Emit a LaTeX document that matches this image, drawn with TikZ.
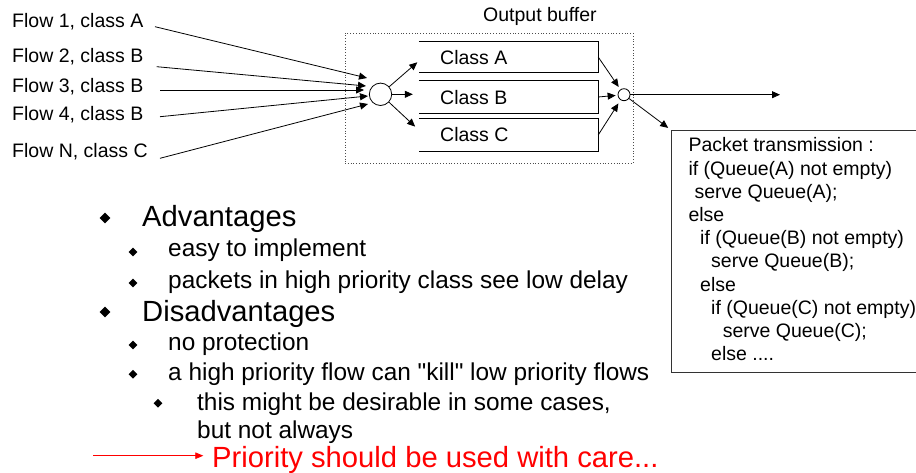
\documentclass[tikz,border=0pt]{standalone}
\usepackage{fontspec}
\setmainfont{Liberation Sans}
\newfontfamily\plainfont{Liberation Sans}
\usetikzlibrary{arrows.meta,shapes.geometric}

\begin{document}
\begin{tikzpicture}[x=1pt,y=-1pt,
		arr/.style={-{Triangle[length=8pt,width=7pt]},line width=0.8pt},
		txt/.style={anchor=base west,inner sep=0pt,font=\fontsize{19.5}{23}\selectfont},
		lvlone/.style={anchor=base west,inner sep=0pt,font=\fontsize{29.2}{34}\selectfont},
		lvltwo/.style={anchor=base west,inner sep=0pt,font=\fontsize{24.4}{29}\selectfont},
		bulone/.style={diamond,fill=black,inner sep=0pt,minimum size=11pt},
		bultwo/.style={diamond,fill=black,inner sep=0pt,minimum size=9pt},
		queue/.style={minimum width=179pt,inner sep=0pt}]
		\useasboundingbox (0,0) rectangle (916,473);

		% flows
		\node[txt] (f1) at (12,28) {Flow 1, class A};
		\node[txt] (f2) at (12,63) {Flow 2, class B};
		\node[txt] (f3) at (12,93) {Flow 3, class B};
		\node[txt] (f4) at (12,121) {Flow 4, class B};
		\node[txt] (f5) at (12,158) {Flow N, class C};
		\coordinate (s1) at (155,26.7);
		\coordinate (s2) at (156.7,66.7);
		\coordinate (s3) at (160,90);
		\coordinate (s4) at (160,116.7);
		\coordinate (s5) at (160,158.3);
		\coordinate (t1) at (367,78);
		\coordinate (t2) at (366,86);
		\coordinate (t3) at (364,90);
		\coordinate (t4) at (368,96);
		\coordinate (t5) at (368,104);

		% output buffer
		\node[draw=black!70,dotted,line width=0.8pt,minimum width=288pt,minimum height=130pt,inner sep=0pt] (buf) at (489,98) {};
		\node[txt] (buflbl) at (483,22) {Output buffer};
		\node[circle,draw,line width=0.8pt,minimum size=22.4pt,inner sep=0pt] (mux) at (380.5,94.3) {};
		\node[queue,minimum height=30pt] (qa) at (508.5,57) {};
		\node[queue,minimum height=32pt] (qb) at (508.5,97) {};
		\node[queue,minimum height=32pt] (qc) at (508.5,135) {};
		\draw[line width=1pt] (qa.north west) -- (qa.north east) -- (qa.south east) -- (qa.south west);
		\draw[line width=1pt] (qb.north west) -- (qb.north east) -- (qb.south east) -- (qb.south west);
		\draw[line width=1pt] (qc.north west) -- (qc.north east) -- (qc.south east) -- (qc.south west);
		\node[txt] (la) at (440,65) {Class A};
		\node[txt] (lb) at (440,105) {Class B};
		\node[txt] (lc) at (440,142) {Class C};
		\node[circle,draw,line width=0.8pt,minimum size=12pt,inner sep=0pt] (sch) at (624,94.7) {};
		\coordinate (out) at (780,94.7);

		\draw[arr] (s1) -- (t1);
		\draw[arr] (s2) -- (t2);
		\draw[arr] (s3) -- (t3);
		\draw[arr] (s4) -- (t4);
		\draw[arr] (s5) -- (t5);

		\draw[arr,shorten >=2pt] (mux) -- ([yshift=-4pt]qa.west);
		\draw[arr,shorten >=6pt] (mux) -- (mux -| qb.west);
		\draw[arr,shorten >=5pt] (mux) -- ([yshift=5pt]qc.west);

		\draw[arr,shorten >=3pt] (qa.east) -- (sch);
		\draw[arr,shorten >=2pt] (qb.east) -- (sch);
		\draw[arr,shorten >=4pt] (qc.east) -- (sch);

		\draw[arr] (sch) -- (out);

		% packet transmission
		\draw[black!80,line width=0.8pt] (918,130) -- (671,130) -- (671,372) -- (918,372);
		\coordinate (pkt) at (671,130);
		\draw[arr,shorten >=3.5pt] (sch) -- (pkt);
		\node[txt] (p1) at (688.3,152) {Packet transmission :};
		\node[txt] (p2) at (688.3,175.2) {if (Queue(A) not empty)};
		\node[txt] (p3) at (694.3,198.4) {serve Queue(A);};
		\node[txt] (p4) at (688.3,221.6) {else};
		\node[txt] (p5) at (700,244.8) {if (Queue(B) not empty)};
		\node[txt] (p6) at (711,268) {serve Queue(B);};
		\node[txt] (p7) at (700,291.2) {else};
		\node[txt] (p8) at (711,314.4) {if (Queue(C) not empty)};
		\node[txt] (p9) at (722.6,337.6) {serve Queue(C);};
		\node[txt] (p10) at (711,360.8) {else ....};

		% bullets
		\node[bulone] (d1) at (105,218) {};
		\node[lvlone] (adv) at (142,227) {Advantages};
		\node[bultwo] (d2) at (133,252) {};
		\node[lvltwo] (adv1) at (168,257) {easy to implement};
		\node[bultwo] (d3) at (133,283) {};
		\node[lvltwo] (adv2) at (168,288) {packets in high priority class see low delay};
		\node[bulone] (d4) at (105,312) {};
		\node[lvlone] (dis) at (142,321) {Disadvantages};
		\node[bultwo] (d5) at (133,345) {};
		\node[lvltwo] (dis1) at (168,350) {no protection};
		\node[bultwo] (d6) at (133,374.3) {};
		\node[lvltwo] (dis2) at (168,380) {a high priority flow can {\plainfont "kill"} low priority flows};
		\node[bultwo] (d7) at (158,403.3) {};
		\node[lvltwo] (dis3) at (197,410) {this might be desirable in some cases,};
		\node[lvltwo] (dis4) at (197,438) {but not always};

		\coordinate (rs) at (93.3,455.7);
		\node[lvlone,red] (care) at (212,467) {Priority should be used with care...};
		\draw[red,line width=0.8pt,-{Triangle[length=8pt,width=6.5pt]}] (rs) -- (rs -| 203.3,0);
\end{tikzpicture}
\end{document}
